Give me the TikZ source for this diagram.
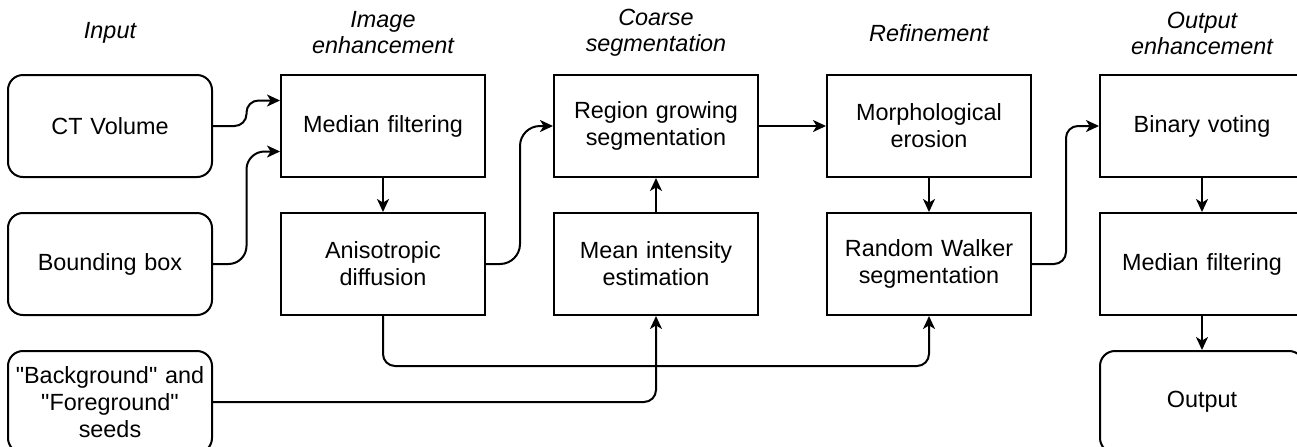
\documentclass[tikz,border=0pt]{standalone}
\usepackage{fontspec}
\setmainfont{Liberation Sans}[Ligatures=TeXOff]
\usepackage{tikz}
\usetikzlibrary{arrows.meta, positioning}
\tikzstyle{block}=[rectangle, draw=black, line width=1pt, minimum width=102pt, minimum height=51pt, inner sep=0pt, align=center, text width=100pt]
\tikzstyle{terminal}=[block, rounded corners=7.5pt]
\tikzstyle{stage}=[font=\fontsize{11.7}{13}\selectfont\itshape, align=center]
\tikzstyle{flow}=[line width=1pt, -{Stealth[length=6.5pt, width=6pt, inset=1.8pt]}]

\begin{document}
\begin{tikzpicture}[node distance=17pt and 33.5pt, font=\fontsize{11.7}{13.5}\selectfont]
    \useasboundingbox (0,0) rectangle (648.5pt,-223pt);
    \node (ct) [terminal] at (55pt,-63pt) {CT Volume};
    \node (bbox) [terminal, below=of ct] {Bounding box};
    \node (seeds) [terminal, below=of bbox]
        {
            "Background" and\\
            "Foreground"\\
            seeds
        };
    \node (median) [block, right=of ct] {Median filtering};
    \node (aniso) [block, below=of median] {Anisotropic\\ diffusion};
    \node (region) [block, right=of median] {Region growing\\ segmentation};
    \node (mean) [block, below=of region] {Mean intensity\\ estimation};
    \node (erosion) [block, right=of region] {Morphological\\ erosion};
    \node (walker) [block, below=of erosion] {Random Walker\\ segmentation};
    \node (voting) [block, right=of erosion] {Binary voting};
    \node (median2) [block, below=of voting] {Median filtering};
    \node (output) [terminal, below=of median2] {Output};

    \node (h1) [stage, above=20.5pt of ct, anchor=center] {Input};
    \node (h2) [stage, above=20.5pt of median, anchor=center] {Image\\ enhancement};
    \node (h3) [stage, above=20.5pt of region, anchor=center] {Coarse\\ segmentation};
    \node (h4) [stage, above=20.5pt of erosion, anchor=center] {Refinement};
    \node (h5) [stage, above=20.5pt of voting, anchor=center] {Output\\ enhancement};

    \draw[flow, rounded corners=6pt] (ct.east) -- ++(16.75pt,0) |- ([yshift=12.75pt]median.west);
    \draw[flow, rounded corners=9pt] (bbox.east) -- ++(16.75pt,0) |- ([yshift=-12.75pt]median.west);
    \draw[flow] (median) -- (aniso);
    \draw[flow, rounded corners=10pt] (aniso.east) -- ++(17pt,0) |- (region.west);
    \draw[flow] (mean) -- (region);
    \draw[flow] (region) -- (erosion);
    \draw[flow] (erosion) -- (walker);
    \draw[flow, rounded corners=6pt] (walker.east) -- ++(17pt,0) |- (voting.west);
    \draw[flow] (voting) -- (median2);
    \draw[flow] (median2) -- (output);
    \draw[flow, rounded corners=6pt] (aniso.south) -- ++(0,-25pt) -| (walker.south);
    \draw[flow, rounded corners=6pt] (seeds.east) -| (mean.south);
 \end{tikzpicture}
\end{document}
